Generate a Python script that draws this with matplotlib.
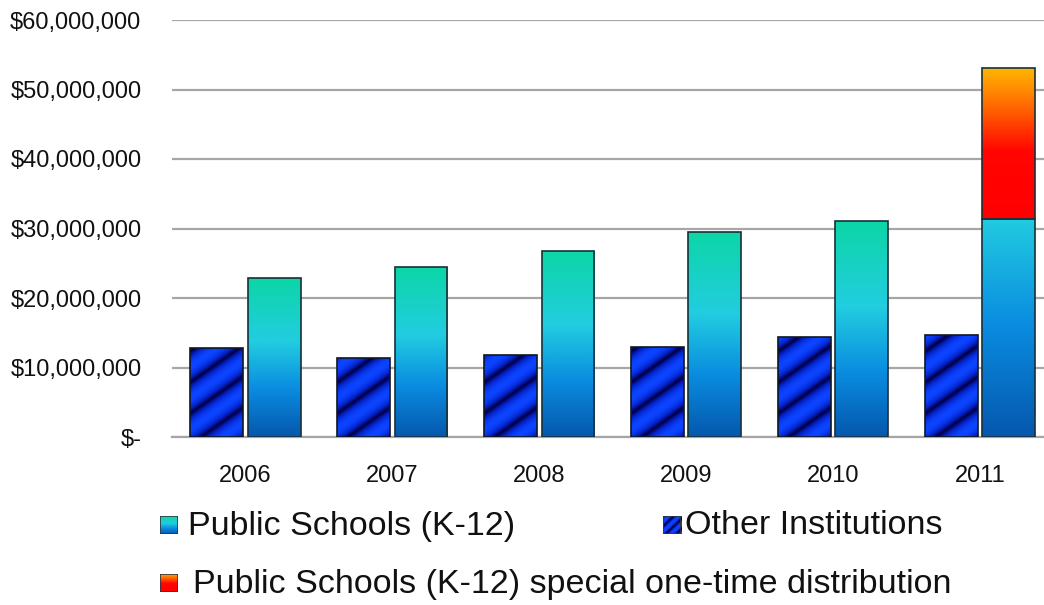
import numpy as np
import matplotlib.pyplot as plt
from matplotlib.colors import LinearSegmentedColormap
from matplotlib.patches import Rectangle

plt.rcParams['font.family'] = ['Liberation Sans', 'DejaVu Sans']

years = ['2006', '2007', '2008', '2009', '2010', '2011']
other_inst = [12.8e6, 11.4e6, 11.8e6, 12.9e6, 14.4e6, 14.7e6]
public_k12 = [22.9e6, 24.5e6, 26.8e6, 29.5e6, 31.1e6, 31.4e6]
special_k12 = [0, 0, 0, 0, 0, 21.7e6]

yticks = [0, 10e6, 20e6, 30e6, 40e6, 50e6, 60e6]
ytick_labels = ['$-', '$10,000,000', '$20,000,000', '$30,000,000',
                '$40,000,000', '$50,000,000', '$60,000,000']

cmap_public = LinearSegmentedColormap.from_list(
    'pub', [(0.0, '#0558ad'), (0.3, '#0a8ce0'), (0.6, '#22cde0'), (1.0, '#0cd6a6')])
cmap_special = LinearSegmentedColormap.from_list(
    'spc', [(0.0, '#ff0000'), (0.45, '#ff0500'), (0.75, '#ff6a00'), (1.0, '#ffb600')])
cmap_other = LinearSegmentedColormap.from_list(
    'oth', [(0.0, '#000048'), (0.45, '#0422c8'), (1.0, '#0c44ff')])


def gradient_fill(ax, patch, cmap, f0=0.0, f1=1.0):
    x, y = patch.get_x(), patch.get_y()
    w, h = patch.get_width(), patch.get_height()
    grad = np.linspace(f0, f1, 256).reshape(-1, 1)
    im = ax.imshow(grad, cmap=cmap, vmin=0, vmax=1, aspect='auto', origin='lower',
                   extent=(x, x + w, y, y + h), zorder=2, interpolation='bilinear')
    im.set_clip_path(patch)


def stripe_pattern(nx, ny, period, slope=0.7):
    xx, yy = np.meshgrid(np.arange(nx), np.arange(ny))
    v = (np.sin(2 * np.pi * (yy - slope * xx) / period) + 1) / 2
    return v ** 0.55


def stripe_fill(ax, patch, cmap, period=31.0):
    x, y = patch.get_x(), patch.get_y()
    w, h = patch.get_width(), patch.get_height()
    (px0, py0), (px1, py1) = ax.transData.transform([(x, y), (x + w, y + h)])
    nx, ny = int(px1 - px0) + 1, int(py1 - py0) + 1
    v = stripe_pattern(nx, ny, period)
    im = ax.imshow(v, cmap=cmap, vmin=0, vmax=1, aspect='auto', origin='lower',
                   extent=(x, x + w, y, y + h), zorder=2, interpolation='bilinear')
    im.set_clip_path(patch)


fig = plt.figure(figsize=(10.44, 6.05), dpi=100)
ax = fig.add_axes([172 / 1044, 1 - 437 / 605, (1044 - 172) / 1044, (437 - 20) / 605])

pos = np.arange(len(years))
bw = 0.36
gap = 0.015
ax.set_xlim(-0.5, 5.435)
ax.set_ylim(0, 60e6)

bars_o = ax.bar(pos - bw / 2 - gap, other_inst, bw, facecolor='none',
                edgecolor='#101820', linewidth=1.2, zorder=3)
bars_p = ax.bar(pos + bw / 2 + gap, public_k12, bw, facecolor='none',
                edgecolor='#1a3038', linewidth=1.2, zorder=3)
bars_s = ax.bar(pos + bw / 2 + gap, special_k12, bw, bottom=public_k12, facecolor='none',
                edgecolor='#1a3038', linewidth=1.2, zorder=3)

for b in bars_o:
    stripe_fill(ax, b, cmap_other)
for b, p, s in zip(bars_p, public_k12, special_k12):
    gradient_fill(ax, b, cmap_public, 0.0, p / (p + s) if s else 1.0)
for b, s in zip(bars_s, special_k12):
    if s > 0:
        gradient_fill(ax, b, cmap_special)
    else:
        b.set_visible(False)

ax.set_yticks(yticks)
ax.set_yticklabels(ytick_labels)
ax.set_xticks(pos)
ax.set_xticklabels(years)
ax.tick_params(axis='y', length=0, pad=22, labelsize=17, labelcolor='#111111')
ax.tick_params(axis='x', length=0, pad=20, labelsize=17, labelcolor='#111111')
ax.grid(axis='y', color='#a6a6a6', linewidth=1.6, zorder=1)
ax.set_axisbelow(True)
for s in ['left', 'right', 'top']:
    ax.spines[s].set_visible(False)
ax.spines['bottom'].set_color('#a6a6a6')
ax.spines['bottom'].set_linewidth(1.6)
ax.spines['bottom'].set_zorder(1.5)


# legend drawn by hand below the chart
def legend_marker(px, py, kind):
    mx = fig.add_axes([px / 1044, 1 - (py + 18) / 605, 18 / 1044, 18 / 605])
    mx.set_xlim(0, 1)
    mx.set_ylim(0, 1)
    mx.axis('off')
    r = Rectangle((0, 0), 1, 1, facecolor='none', edgecolor='#303840', linewidth=1.2,
                  transform=mx.transAxes, zorder=3)
    mx.add_patch(r)
    if kind == 'stripe':
        mx.imshow(stripe_pattern(18, 18, 10.0, 1.0), cmap=cmap_other, extent=(0, 1, 0, 1),
                  aspect='auto', origin='lower', interpolation='bilinear')
    else:
        cm = cmap_public if kind == 'public' else cmap_special
        mx.imshow(np.linspace(0, 1, 64).reshape(-1, 1), cmap=cm, extent=(0, 1, 0, 1),
                  aspect='auto', origin='lower')


legend_marker(160, 516, 'public')
legend_marker(663, 516, 'stripe')
legend_marker(160, 574, 'special')
fig.text(188 / 1044, 1 - 526 / 605, 'Public Schools (K-12)', fontsize=24.5,
         va='center', ha='left', color='#111111')
fig.text(685 / 1044, 1 - 526 / 605, 'Other Institutions', fontsize=24.5,
         va='center', ha='left', color='#111111')
fig.text(193 / 1044, 1 - 584 / 605, 'Public Schools (K-12) special one-time distribution',
         fontsize=24.5, va='center', ha='left', color='#111111')

fig.savefig('out.png', dpi=100)
